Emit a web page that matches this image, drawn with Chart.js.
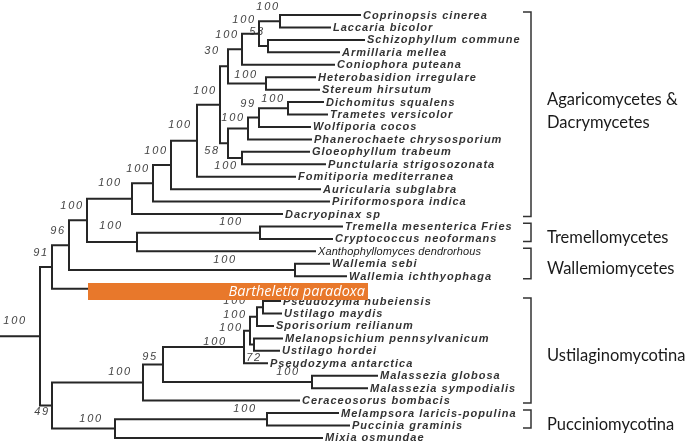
<!DOCTYPE html>
<html>
<head>
<meta charset="utf-8">
<script src="https://cdn.jsdelivr.net/npm/chart.js@4.4.1/dist/chart.umd.min.js"></script>
<style>
  html, body { margin: 0; padding: 0; background: #fff; }
  #wrap { width: 685px; height: 445px; }
</style>
</head>
<body>
<div id="wrap"><canvas id="tree" width="685" height="445"></canvas></div>
<script>
// Basidiomycota tree, leaves listed top to bottom
const leafNames = [
  'Coprinopsis cinerea', 'Laccaria bicolor', 'Schizophyllum commune', 'Armillaria mellea',
  'Coniophora puteana', 'Heterobasidion irregulare', 'Stereum hirsutum', 'Dichomitus squalens',
  'Trametes versicolor', 'Wolfiporia cocos', 'Phanerochaete chrysosporium', 'Gloeophyllum trabeum',
  'Punctularia strigosozonata', 'Fomitiporia mediterranea', 'Auricularia subglabra', 'Piriformospora indica',
  'Dacryopinax sp', 'Tremella mesenterica Fries', 'Cryptococcus neoformans', 'Xanthophyllomyces dendrorhous',
  'Wallemia sebi', 'Wallemia ichthyophaga', 'Bartheletia paradoxa', 'Pseudozyma hubeiensis',
  'Ustilago maydis', 'Sporisorium reilianum', 'Melanopsichium pennsylvanicum', 'Ustilago hordei',
  'Pseudozyma antarctica', 'Malassezia globosa', 'Malassezia sympodialis', 'Ceraceosorus bombacis',
  'Melampsora laricis-populina', 'Puccinia graminis', 'Mixia osmundae'
];
// distance from root to each tip
const leafDepth = [
  360, 330, 364, 339, 334, 315, 319, 323, 327, 310, 311, 309, 325, 295, 320, 329, 282,
  342, 332, 315, 329, 346, 88, 280, 281, 273, 282, 279, 267, 377, 367, 299, 338, 349, 322
];

// internal nodes
const nodeNames = ['A', 'B', 'C', 'D', 'E', 'F', 'G', 'H', 'I', 'J', 'K', 'L', 'M', 'N', 'O', 'P',
  'Q', 'R', 'S', 'W', 'T', 'U', 'CC', 'DD', 'FF', 'EE', 'BB', 'MAL', 'AA', 'Z', 'PG', 'PP', 'Y', 'ROOT'];
const nodeDepth = [280, 268, 259, 242, 266, 228, 288, 259, 248, 242, 228, 220, 197, 171, 153, 132,
  260, 137, 87, 295, 69, 52, 263, 257, 254, 250, 244, 312, 163, 143, 267, 115, 52, 40];
const nodeKids = [
  [0, 1], [2, 3], ['A', 'B'], ['C', 4], [5, 6], ['D', 'E'], [7, 8], ['G', 9], ['H', 10], [11, 12],
  ['I', 'J'], ['F', 'K'], ['L', 13], ['M', 14], ['N', 15], ['O', 16], [17, 18], ['Q', 19], ['P', 'R'],
  [20, 21], ['S', 'W'], ['T', 22], [23, 24], ['CC', 25], [26, 27], ['DD', 'FF'], ['EE', 28], [29, 30],
  ['BB', 'MAL'], ['AA', 31], [32, 33], ['PG', 34], ['Z', 'PP'], ['U', 'Y']
];
const nodeSupport = [100, 53, 100, 100, 100, 30, 100, 99, 100, 100, 58, 100, 100, 100, 100, 100,
  100, 100, 100, 100, 96, 91, 100, 100, 72, 100, 100, 100, 95, 100, 100, 100, 49, 100];

// clade brackets (first and last leaf)
const cladeNames = [['Agaricomycetes &', 'Dacrymycetes'], ['Tremellomycetes'], ['Wallemiomycetes'],
  ['Ustilaginomycotina'], ['Pucciniomycotina']];
const cladeFirst = [0, 17, 19, 23, 32];
const cladeLast = [16, 18, 21, 31, 33];

const highlightLeaf = 22;

// layout / style
const LINE = '#262626';
const ORANGE = '#e8782b';
const bracketX = 531;
const bracketTick = 8;
const highlightEnd = 368;
const highlightDrop = 0.22; // bar sits a little under its branch
// label offset (px) from node: [right edge dx, centre dy]
const supportNudge = {
  A: [0, -14], E: [-8, -8], F: [-8, -15], G: [-3, -9], I: [-3, -11], J: [-4, 8], K: [-8, 8],
  M: [-5, -16], P: [-10, -16], Q: [-17, -11], R: [-14, -16], W: [-58, -10],
  CC: [-16, -6], DD: [-10, -2], EE: [-7, -3], FF: [8, 13], BB: [-17, -5], MAL: [-12, -10],
  AA: [-5, -8], Z: [-11, -11], PG: [-10, -10], PP: [-12, -10], Y: [-2, 6], ROOT: [-13, -15]
};

// ---- build geometry from the tree ----
const nodeIndex = {};
nodeNames.forEach((n, i) => { nodeIndex[n] = i; });

function kidX(k) { return typeof k === 'number' ? leafDepth[k] : nodeDepth[nodeIndex[k]]; }
const nodeRow = {};
function kidY(k) {
  if (typeof k === 'number') return k;
  if (nodeRow[k] !== undefined) return nodeRow[k];
  const kids = nodeKids[nodeIndex[k]];
  nodeRow[k] = (kidY(kids[0]) + kidY(kids[kids.length - 1])) / 2;
  return nodeRow[k];
}

const GAP = { x: NaN, y: NaN };
const branchPts = [];
nodeNames.forEach((n, i) => {
  const d = nodeDepth[i];
  const kids = nodeKids[i];
  branchPts.push({ x: d, y: kidY(kids[0]) }, { x: d, y: kidY(kids[kids.length - 1]) }, GAP);
  kids.forEach(k => {
    branchPts.push({ x: d, y: kidY(k) }, { x: kidX(k), y: kidY(k) }, GAP);
  });
});
// root stem
branchPts.push({ x: 0, y: kidY('ROOT') }, { x: nodeDepth[nodeIndex.ROOT], y: kidY('ROOT') });

const bracketPts = [];
cladeFirst.forEach((f, i) => {
  const top = f - 0.25, bot = cladeLast[i] + 0.2;
  bracketPts.push(
    { x: bracketX - bracketTick, y: top }, { x: bracketX, y: top },
    { x: bracketX, y: bot }, { x: bracketX - bracketTick, y: bot }, GAP
  );
});

const highlightPts = [
  { x: leafDepth[highlightLeaf], y: highlightLeaf + highlightDrop },
  { x: highlightEnd, y: highlightLeaf + highlightDrop }
];

// ---- text drawn on the chart ----
const treeText = {
  id: 'treeText',
  beforeDatasetsDraw(chart) {
    const { ctx, scales: { x, y } } = chart;
    ctx.save();
    ctx.textBaseline = 'middle';

    // tip labels
    leafNames.forEach((name, i) => {
      if (i === highlightLeaf) return;
      if (i === 19) {
        ctx.font = 'italic 11px "Liberation Sans"';
        ctx.letterSpacing = '0.1px';
        ctx.fillStyle = '#222';
      } else {
        ctx.font = 'italic bold 11px "Liberation Sans"';
        ctx.letterSpacing = '1px';
        ctx.fillStyle = '#333';
      }
      ctx.textAlign = 'left';
      ctx.fillText(name, x.getPixelForValue(leafDepth[i]) + 3, y.getPixelForValue(i) + 0.5);
    });

    // support values
    ctx.font = 'italic 11px "Liberation Sans"';
    ctx.letterSpacing = '1.8px';
    ctx.fillStyle = '#444';
    ctx.textAlign = 'right';
    nodeNames.forEach((n, i) => {
      const v = nodeSupport[i];
      if (v == null) return;
      const off = supportNudge[n] || [-3, -14];
      ctx.fillText(String(v), x.getPixelForValue(nodeDepth[i]) + off[0],
        y.getPixelForValue(kidY(n)) + off[1]);
    });
    ctx.restore();
  },
  afterDatasetsDraw(chart) {
    const { ctx, scales: { x, y } } = chart;
    ctx.save();
    ctx.textBaseline = 'middle';

    // highlighted taxon
    ctx.font = 'italic 14.5px "Open Sans"';
    ctx.fillStyle = '#fff';
    ctx.textAlign = 'right';
    ctx.fillText(leafNames[highlightLeaf], x.getPixelForValue(highlightEnd) - 3,
      y.getPixelForValue(highlightLeaf + highlightDrop));

    // clade names
    ctx.font = '16.5px Lato';
    ctx.fillStyle = '#1a1a1a';
    ctx.textAlign = 'left';
    cladeNames.forEach((lines, i) => {
      const mid = y.getPixelForValue((cladeFirst[i] + cladeLast[i]) / 2);
      const h = 23;
      lines.forEach((t, j) => {
        const cy = lines.length > 1 ? mid - 3 + (j - (lines.length - 1) / 2) * h : mid + 5;
        ctx.fillText(t, x.getPixelForValue(bracketX) + 16, cy);
      });
    });
    ctx.restore();
  }
};

new Chart(document.getElementById('tree'), {
  type: 'scatter',
  data: {
    datasets: [
      {
        data: highlightPts, showLine: true, borderColor: ORANGE, borderWidth: 17,
        borderCapStyle: 'butt', pointRadius: 0
      },
      {
        data: branchPts, showLine: true, borderColor: LINE, borderWidth: 2,
        borderCapStyle: 'square', pointRadius: 0, spanGaps: false
      },
      {
        data: bracketPts, showLine: true, borderColor: '#333', borderWidth: 1.5,
        borderJoinStyle: 'miter', pointRadius: 0, spanGaps: false
      }
    ]
  },
  options: {
    responsive: false,
    animation: false,
    devicePixelRatio: 1,
    layout: { padding: 0 },
    plugins: { legend: { display: false }, tooltip: { enabled: false } },
    scales: {
      x: { type: 'linear', display: false, min: 0, max: 685 },
      y: { type: 'linear', display: false, reverse: true, min: -1.206, max: 34.57 }
    }
  },
  plugins: [treeText]
});
</script>
</body>
</html>
